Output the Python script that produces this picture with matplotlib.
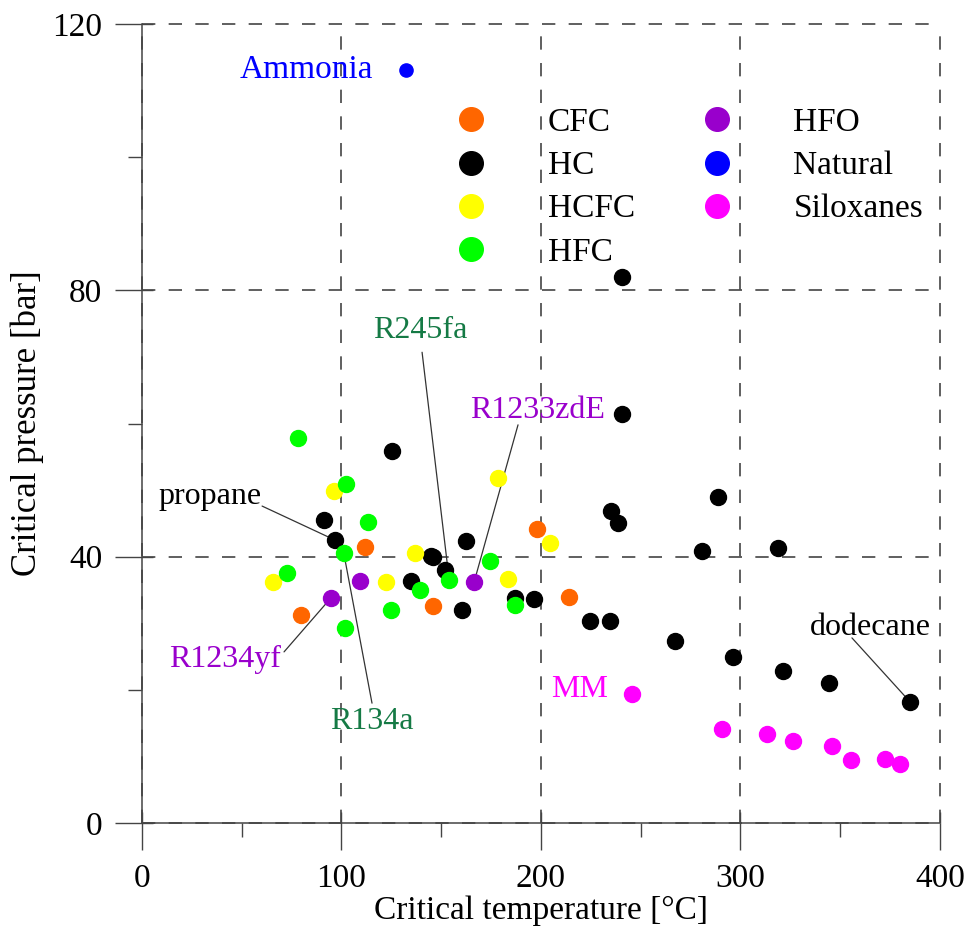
import matplotlib
matplotlib.use("Agg")
import matplotlib.pyplot as plt

plt.rcParams["font.family"] = ["Liberation Serif", "DejaVu Serif"]

# ---- data: critical temperature [degC], critical pressure [bar] ----
cfc_T = [79.9, 112.0, 145.7, 198.0, 214.1]
cfc_P = [31.3, 41.4, 32.6, 44.1, 33.9]

hc_T = [91.1, 96.7, 125.2, 134.7, 144.9, 146.1, 152.0, 162.6, 160.6, 187.2, 196.5,
        224.6, 234.7, 267.0, 296.2, 321.4, 344.5, 385.0, 234.9, 238.4, 240.6, 240.6,
        288.9, 280.5, 318.6]
hc_P = [45.5, 42.5, 55.8, 36.3, 40.1, 40.0, 38.0, 42.3, 32.0, 33.8, 33.7,
        30.4, 30.3, 27.4, 25.0, 22.8, 21.0, 18.2, 46.9, 45.0, 61.4, 82.0,
        49.0, 40.8, 41.3]

hcfc_T = [65.7, 96.2, 122.3, 137.1, 178.3, 183.7, 204.4]
hcfc_P = [36.2, 49.9, 36.2, 40.6, 51.8, 36.6, 42.1]

hfc_T = [78.1, 72.7, 102.1, 101.1, 113.3, 101.8, 124.9, 139.3, 154.0, 174.4, 186.9]
hfc_P = [57.8, 37.6, 50.9, 40.6, 45.2, 29.3, 32.0, 35.0, 36.5, 39.3, 32.7]

hfo_T = [94.7, 109.4, 166.5]
hfo_P = [33.8, 36.4, 36.2]

nat_T = [132.3]
nat_P = [113.1]

silox_T = [245.6, 290.9, 313.3, 326.3, 346.1, 355.2, 372.6, 380.1]
silox_P = [19.4, 14.1, 13.3, 12.3, 11.6, 9.5, 9.6, 8.8]

groups = [("CFC", cfc_T, cfc_P, "#ff6600"),
          ("HC", hc_T, hc_P, "#000000"),
          ("HCFC", hcfc_T, hcfc_P, "#ffff00"),
          ("HFC", hfc_T, hfc_P, "#00ff00"),
          ("HFO", hfo_T, hfo_P, "#9900cc"),
          ("Natural", nat_T, nat_P, "#0000ff"),
          ("Siloxanes", silox_T, silox_P, "#ff00ff")]

xmajor = [0, 100, 200, 300, 400]; ymajor = [0, 40, 80, 120]

# ---- figure ----
fig = plt.figure(figsize=(9.68, 9.38), dpi=100)
ax = fig.add_axes([0.1467, 0.1226, 0.8243, 0.8518])

handles = []
for name, T, P, col in groups:
    ms = 9.5 if name == "Natural" else 11.5
    ax.plot(T, P, "o", ms=ms, mfc=col, mec=col, ls="none", zorder=3)
    h, = ax.plot([], [], "o", ms=17, mfc=col, mec=col, ls="none", label=name)
    handles.append(h)

# ---- annotations: (text, group T, group P, index, text pos, line start, colour) ----
GREEN = "#157a45"; PURPLE = "#9900cc"
notes = [("propane", hc_T, hc_P, 1, (34, 49.0), (60.2, 47.6), "black"),
         ("R245fa", hfc_T, hfc_P, 8, (139.3, 74.0), (140.4, 70.7), GREEN),
         ("R1233zdE", hfo_T, hfo_P, 2, (198.5, 62.0), (188.5, 59.8), PURPLE),
         ("R1234yf", hfo_T, hfo_P, 0, (41.6, 24.5), (71.2, 25.7), PURPLE),
         ("R134a", hfc_T, hfc_P, 3, (115.3, 15.2), (115.3, 18.0), GREEN),
         ("dodecane", hc_T, hc_P, 17, (365.0, 29.3), (355.9, 27.8), "black")]
for txt, T, P, i, tpos, lstart, col in notes:
    ax.annotate("", xy=(T[i], P[i]), xytext=lstart,
                arrowprops=dict(arrowstyle="-", color="#333333", lw=0.9,
                                shrinkA=0, shrinkB=0), zorder=2)
    ax.text(*tpos, txt, color=col, fontsize=23, ha="center", va="center")
ax.text(115.8, 113.1, "Ammonia", color="#0000ff", fontsize=24, ha="right", va="center")
ax.text(219.5, 20.0, "MM", color="#ff00ff", fontsize=23, ha="center", va="center")

# ---- axes ----
ax.set_xlim(0, 400); ax.set_ylim(0, 120)
ax.set_xticks(xmajor); ax.set_yticks(ymajor)
ax.set_xticks([50, 150, 250, 350], minor=True); ax.set_yticks([20, 60, 100], minor=True)
ax.grid(True, which="major", color="#444444", lw=1.2, ls=(0, (8, 8)))
for gl in ax.get_xgridlines() + ax.get_ygridlines():
    gl.set_clip_on(False)
ax.set_axisbelow(True)
for s in ("top", "right"):
    ax.spines[s].set_visible(False)
for s in ("left", "bottom"):
    ax.spines[s].set_color("#444444"); ax.spines[s].set_linewidth(1.1)
ax.tick_params(which="major", direction="out", length=19.5, width=1.0, color="#444444",
               labelsize=24, pad=9)
ax.tick_params(axis="x", which="major", pad=10)
ax.tick_params(which="minor", direction="out", length=10, width=1.0, color="#444444")
secx = ax.secondary_xaxis("bottom"); secx.set_xticks(xmajor)
secy = ax.secondary_yaxis("left"); secy.set_yticks(ymajor)
for sec in (secx, secy):
    sec.tick_params(which="both", direction="in", length=8, width=1.0, color="#444444",
                    labelbottom=False, labelleft=False)
    sec.minorticks_off()
    for sp in sec.spines.values():
        sp.set_visible(False)
ax.set_xlabel("Critical temperature [°C]", fontsize=24, labelpad=1)
ax.set_ylabel("Critical pressure [bar]", fontsize=25, labelpad=6)

ax.legend(handles=handles, ncol=2, loc="upper left", bbox_to_anchor=(0.375, 0.912),
          borderaxespad=0, frameon=False, fontsize=24, handlelength=1.0,
          handletextpad=1.8, columnspacing=1.95, labelspacing=0.38)

fig.savefig("out.png", dpi=100)
